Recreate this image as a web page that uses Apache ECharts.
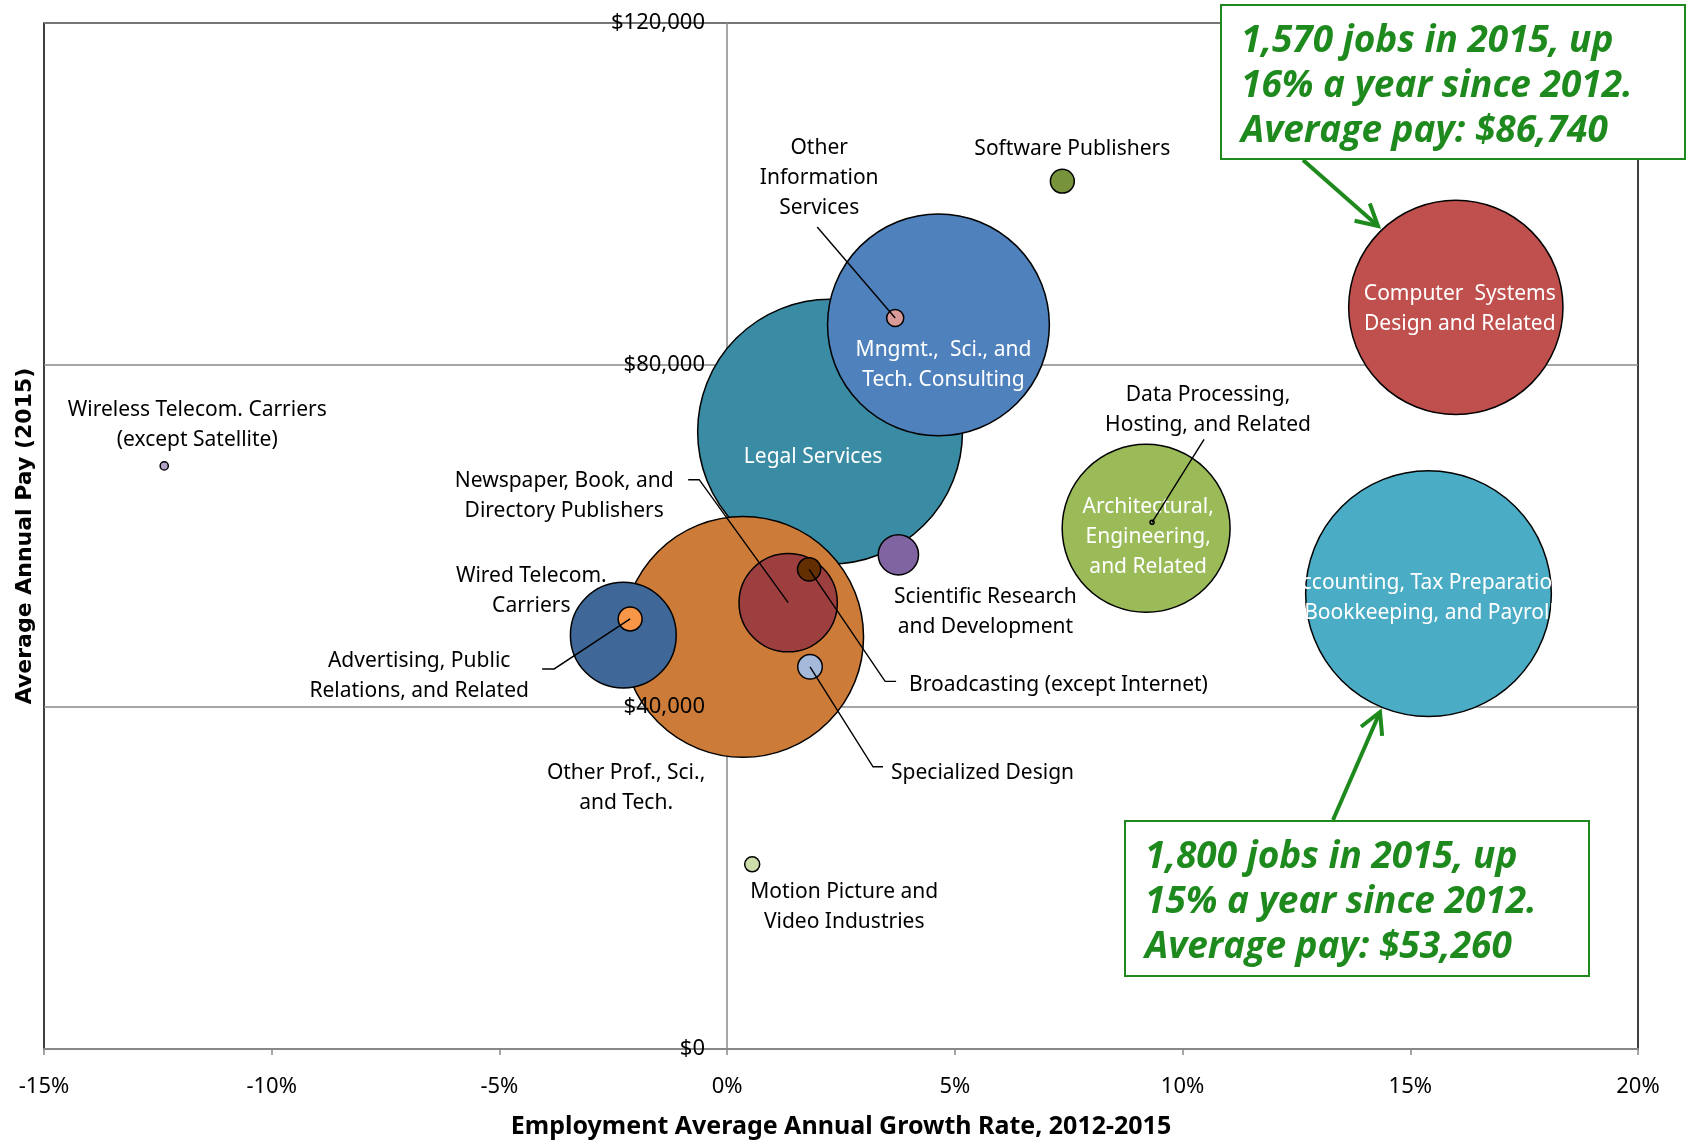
<!DOCTYPE html>
<html>
<head>
<meta charset="utf-8">
<title>Employment growth and pay by industry</title>
<script src="https://cdn.jsdelivr.net/npm/echarts@6/dist/echarts.min.js"></script>
<style>
  html, body { margin: 0; padding: 0; background: #fff; }
  #chart { width: 1690px; height: 1140px; }
</style>
</head>
<body>
<div id="chart"></div>
<script>
// industries, big bubbles first so the small ones are drawn on top
var industries = [
  'Legal Services',
  'Mngmt., Sci., and Tech. Consulting',
  'Computer Systems Design and Related',
  'Accounting, Tax Preparation, Bookkeeping, and Payroll',
  'Architectural, Engineering, and Related',
  'Other Prof., Sci., and Tech.',
  'Wired Telecom. Carriers',
  'Newspaper, Book, and Directory Publishers',
  'Scientific Research and Development',
  'Broadcasting (except Internet)',
  'Specialized Design',
  'Advertising, Public Relations, and Related',
  'Other Information Services',
  'Software Publishers',
  'Motion Picture and Video Industries',
  'Data Processing, Hosting, and Related',
  'Wireless Telecom. Carriers (except Satellite)'
];
// employment average annual growth 2012-2015, %
var growth = [2.26, 4.64, 16.0, 15.4, 9.20, 0.35, -2.28, 1.34, 3.76, 1.80, 1.82, -2.13, 3.69, 7.36, 0.55, 9.33, -12.36];
// average annual pay 2015, $
var pay = [72200, 84700, 86740, 53260, 60900, 48200, 48400, 52200, 57800, 56100, 44700, 50300, 85500, 101500, 21600, 61600, 68200];
// jobs in 2015 (bubble width)
var jobs = [1940, 1625, 1570, 1800, 1230, 1765, 775, 720, 295, 170, 180, 175, 125, 175, 110, 30, 60];

var xTicks = { min: -15, max: 20, step: 5 };
var yTicks = { min: 0, max: 120000, step: 40000 };

var bubbleColors = ['#3A8CA4', '#4F81BD', '#C0504D', '#4BACC6', '#9BBB59', '#CC7B38', '#3F6898', '#9E3F3F',
  '#8064A2', '#632E00', '#A5B9DA', '#F79646', '#D99A98', '#77933C', '#CCDDAA', '#9BBB59', '#B3A2C7'];

// label text and where it sits relative to its bubble (px)
var labelCfg = [
  { text: 'Legal Services', offset: [-17, 25], white: true },
  { text: 'Mngmt.,  Sci., and\nTech. Consulting', offset: [5, 40], white: true },
  { text: 'Computer  Systems\nDesign and Related', offset: [4, 2], white: true },
  { text: 'Accounting, Tax Preparation,\nBookkeeping, and Payroll', offset: [1, 4], white: true },
  { text: 'Architectural,\nEngineering,\nand Related', offset: [2, 9], white: true },
  { text: 'Other Prof., Sci.,\nand Tech.', offset: [-117, 151] },
  { text: 'Wired Telecom.\nCarriers', offset: [-92, -44] },
  { text: 'Newspaper, Book, and\nDirectory Publishers', offset: [-224, -107] },
  { text: 'Scientific Research\nand Development', offset: [87, 57] },
  { text: 'Broadcasting (except Internet)', offset: [100, 116], align: 'left' },
  { text: 'Specialized Design', offset: [81, 106], align: 'left' },
  { text: 'Advertising, Public\nRelations, and Related', offset: [-211, 57] },
  { text: 'Other\nInformation\nServices', offset: [-76, -140] },
  { text: 'Software Publishers', offset: [10, -32] },
  { text: 'Motion Picture and\nVideo Industries', offset: [92, 43] },
  { text: 'Data Processing,\nHosting, and Related', offset: [56, -112] },
  { text: 'Wireless Telecom. Carriers\n(except Satellite)', offset: [33, -41] }
];

// leader lines: bends relative to the bubble centre (px)
var leaderCfg = {
  7: [[-89, -123], [-100, -123]],
  9: [[76, 112], [87, 112]],
  10: [[63, 100], [73, 100]],
  11: [[-76, 50], [-88, 50]],
  12: [[-78, -91]],
  15: [[52, -83]]
};

var JOB_PX = 0.1365;
var GREEN = '#1E8A1E';
var labelFont = 'Noto Sans';
var ZERO_SHIFT = -683; // moves a left y axis from the grid edge to x = 0

var chart = echarts.init(document.getElementById('chart'));

var bubbles = industries.map(function (name, i) {
  var lab = labelCfg[i];
  return {
    name: name,
    value: [growth[i], pay[i], jobs[i]],
    itemStyle: { color: bubbleColors[i] },
    label: {
      formatter: lab.text,
      offset: lab.offset,
      color: lab.white ? '#fff' : '#000',
      align: lab.align || 'center'
    }
  };
});

var leaders = Object.keys(leaderCfg).map(function (k) {
  return [growth[k], pay[k], +k];
});

function arrow(x1, y1, x2, y2) {
  var a = Math.atan2(y2 - y1, x2 - x1), len = 24, sp = 0.5;
  var p1 = [x2 - len * Math.cos(a - sp), y2 - len * Math.sin(a - sp)];
  var p2 = [x2 - len * Math.cos(a + sp), y2 - len * Math.sin(a + sp)];
  return [
    { type: 'line', z: 20, shape: { x1: x1, y1: y1, x2: x2, y2: y2 }, style: { stroke: GREEN, lineWidth: 4 } },
    { type: 'polyline', z: 20, shape: { points: [p1, [x2, y2], p2] }, style: { stroke: GREEN, lineWidth: 4, fill: null } }
  ];
}

function callout(x, y, w, h, lines) {
  return [
    { type: 'rect', z: 20, shape: { x: x, y: y, width: w, height: h }, style: { fill: '#fff', stroke: GREEN, lineWidth: 2 } },
    { type: 'text', z: 21, left: x + 20, top: y + 14, style: {
      text: lines, fill: GREEN, font: 'italic bold 37px "Open Sans"', lineHeight: 45 } }
  ];
}

var yBase = { type: 'value', min: yTicks.min, max: yTicks.max, interval: yTicks.step, position: 'left' };

var option = {
  animation: false,
  grid: {
    left: 44, right: 52, top: 23, bottom: 91, outerBoundsMode: 'none', containLabel: false,
    show: true, borderColor: '#000', borderWidth: 1.5
  },
  xAxis: {
    type: 'value', min: xTicks.min, max: xTicks.max, interval: xTicks.step, z: 1,
    name: 'Employment Average Annual Growth Rate, 2012-2015',
    nameLocation: 'middle', nameGap: 65,
    nameTextStyle: { fontFamily: labelFont, fontWeight: 'bold', fontSize: 25, color: '#000' },
    axisLine: { onZero: false, lineStyle: { color: '#888', width: 2 } },
    axisTick: { show: true, length: 6, lineStyle: { color: '#888', width: 1.5 } },
    axisLabel: { formatter: '{value}%', margin: 27, fontFamily: labelFont, fontSize: 22, color: '#000' },
    splitLine: { show: false }
  },
  yAxis: [
    // gridlines and the axis title, on the left edge
    Object.assign({}, yBase, {
      name: 'Average Annual Pay (2015)',
      nameLocation: 'middle', nameGap: 8,
      nameTextStyle: { fontFamily: 'DejaVu Sans', fontWeight: 'bold', fontSize: 22, color: '#000' },
      axisLine: { show: false, onZero: false },
      axisTick: { show: false },
      axisLabel: { show: false },
      splitLine: { lineStyle: { color: '#888', width: 1.5 } }
    }),
    // grey axis line at 0%, behind the bubbles
    Object.assign({}, yBase, {
      offset: ZERO_SHIFT,
      axisLine: { show: true, onZero: false, lineStyle: { color: '#888', width: 1.5 } },
      axisTick: { show: false },
      axisLabel: { show: false },
      splitLine: { show: false }
    }),
    // dollar labels, kept above the bubbles
    Object.assign({}, yBase, {
      offset: ZERO_SHIFT, z: 10,
      axisLine: { show: false, onZero: false },
      axisTick: { show: false },
      splitLine: { show: false },
      axisLabel: {
        margin: 22, fontFamily: labelFont, fontSize: 22, color: '#000', padding: [16, 0, 0, 0],
        formatter: function (v) { return '$' + v.toLocaleString('en-US'); }
      }
    })
  ],
  series: [{
    type: 'scatter',
    yAxisIndex: 0,
    data: bubbles,
    symbolSize: function (v) { return v[2] * JOB_PX; },
    itemStyle: { borderColor: '#000', borderWidth: 1.5, opacity: 1 },
    label: { show: true, position: 'inside', fontFamily: labelFont, fontSize: 21, lineHeight: 30 },
    emphasis: { disabled: true }
  }, {
    type: 'custom',
    yAxisIndex: 0,
    z: 5,
    data: leaders,
    encode: { x: 0, y: 1 },
    renderItem: function (params, api) {
      var c = api.coord([api.value(0), api.value(1)]);
      var pts = [c].concat(leaderCfg[api.value(2)].map(function (o) { return [c[0] + o[0], c[1] + o[1]]; }));
      return { type: 'polyline', shape: { points: pts }, style: { stroke: '#000', lineWidth: 1.4, fill: null } };
    }
  }],
  graphic: []
    .concat(callout(1221, 5, 464, 154, '1,570 jobs in 2015, up\n16% a year since 2012.\nAverage pay: $86,740'))
    .concat(arrow(1303, 160, 1378, 226))
    .concat(callout(1125, 821, 464, 155, '1,800 jobs in 2015, up\n15% a year since 2012.\nAverage pay: $53,260'))
    .concat(arrow(1333, 820, 1380, 712))
};

chart.setOption(option);
</script>
</body>
</html>
